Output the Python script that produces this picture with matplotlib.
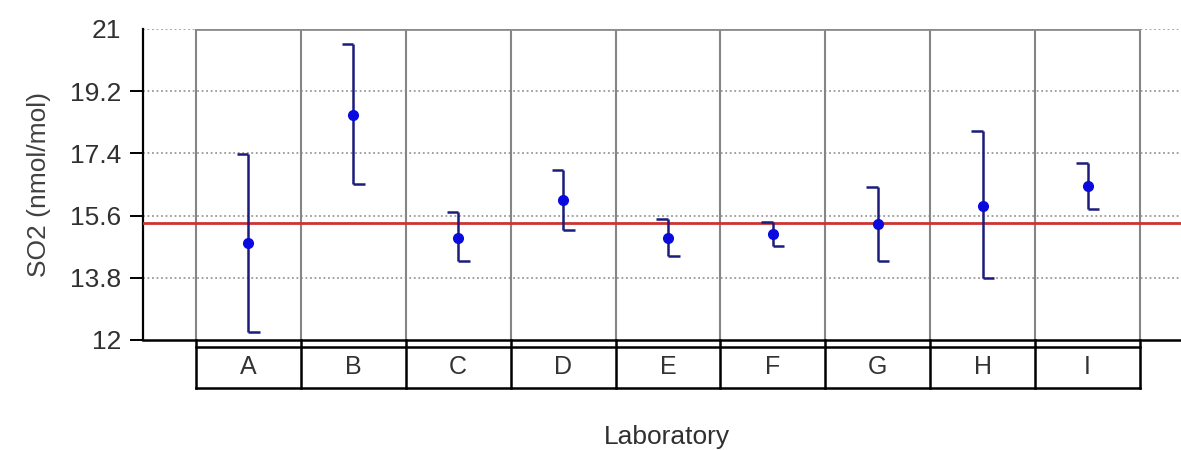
import numpy as np
import matplotlib.pyplot as plt
import matplotlib.transforms as mtransforms

plt.rcParams['font.family'] = ['Liberation Sans Narrow', 'Liberation Sans', 'DejaVu Sans']

# ---- data ----
labs = ['A', 'B', 'C', 'D', 'E', 'F', 'G', 'H', 'I']
means = [14.80, 18.51, 14.95, 16.04, 14.95, 15.08, 15.35, 15.89, 16.46]
upper = [17.37, 20.56, 15.69, 16.91, 15.50, 15.42, 16.44, 18.06, 17.11]
lower = [12.22, 16.51, 14.29, 15.18, 14.42, 14.73, 14.30, 13.80, 15.79]
ref_value = 15.38
yticks = [12, 13.8, 15.6, 17.4, 19.2, 21]
ytick_labels = ['12', '13.8', '15.6', '17.4', '19.2', '21']

fig = plt.figure(figsize=(11.81, 4.5), dpi=100)
ax = fig.add_axes([143 / 1181, 110 / 450, 1 - 143 / 1181, 311 / 450])

x = np.arange(len(labs))
ax.set_xlim(-1.005, 8.89)
ax.set_ylim(12, 21)

# dotted horizontal grid
for yv in yticks[1:]:
    ax.axhline(yv, color='#9a9a9a', lw=1.3, ls=(0, (1, 1.5)), zorder=1)

# column boxes
edges = np.arange(len(labs) + 1) - 0.5
ax.vlines(edges, 12, 21, color='#858585', lw=1.5, zorder=2)
ax.hlines(21, edges[0], edges[-1], color='#8c8c8c', lw=2, zorder=2)

# reference line
ax.axhline(ref_value, color='#cc3333', lw=2, zorder=3)

# error bars with half caps
cw = 0.11
ax.vlines(x, lower, upper, color='#1c1c7c', lw=1.8, zorder=4)
ax.hlines(upper, x - cw, x, color='#1c1c7c', lw=1.8, zorder=4)
ax.hlines(lower, x, x + cw, color='#1c1c7c', lw=1.8, zorder=4)
ax.plot(x, means, 'o', color='#0a0ae0', ms=7, zorder=5)

# axes styling
for s in ['top', 'right']:
    ax.spines[s].set_visible(False)
ax.spines['left'].set_linewidth(1.6)
ax.spines['bottom'].set_linewidth(1.8)
ax.set_xticks([])
ax.set_yticks(yticks)
ax.set_yticklabels(ytick_labels, fontsize=19, color='#303030')
ax.tick_params(axis='y', length=9.5, width=1.4, pad=6)
ax.yaxis.get_major_ticks()[-1].tick1line.set_visible(False)
ax.set_ylabel('SO2 (nmol/mol)', fontsize=19, color='#404040', labelpad=14)

# label table under the plot
tr = mtransforms.blended_transform_factory(ax.transData, ax.transAxes)
t_top = -7 / 311
t_bot = -48 / 311
ax.plot([edges[0], edges[-1]], [t_top, t_top], color='k', lw=1.8, transform=tr, clip_on=False)
ax.plot([edges[0], edges[-1]], [t_bot, t_bot], color='k', lw=1.8, transform=tr, clip_on=False)
for e in edges:
    ax.plot([e, e], [0, t_bot], color='k', lw=1.8, transform=tr, clip_on=False)
for xi, lab in zip(x, labs):
    ax.text(xi, (t_top + t_bot) / 2, lab, transform=tr, ha='center', va='center',
            fontsize=18, color='#333333')

fig.text(667 / 1181, 13 / 450, 'Laboratory', ha='center', va='center', fontsize=19, color='#303030')

fig.savefig('out.png', dpi=100)
